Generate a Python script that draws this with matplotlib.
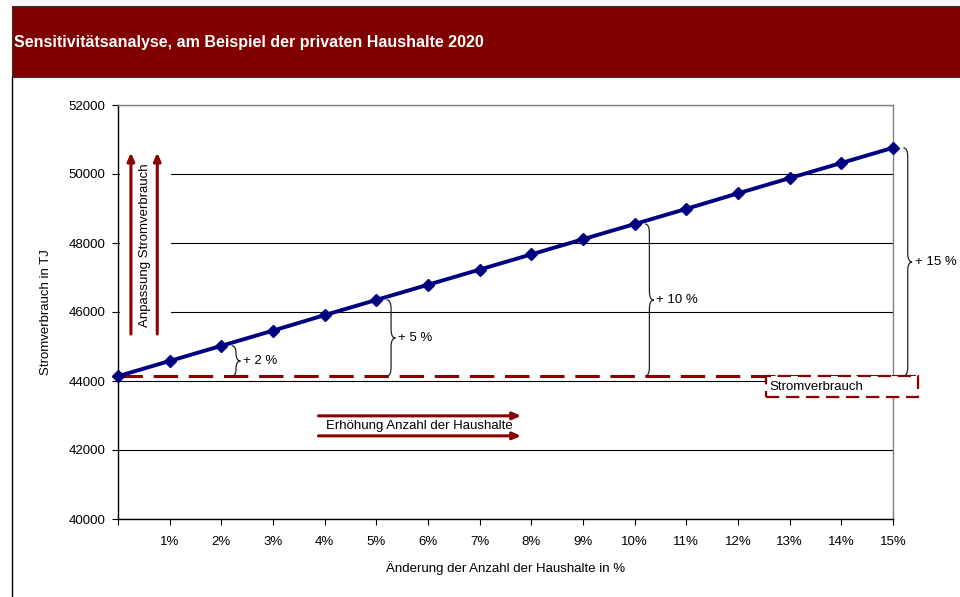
import numpy as np
import matplotlib
matplotlib.use('Agg')
from matplotlib import pyplot as plt
from matplotlib.patches import Rectangle, PathPatch
from matplotlib.path import Path
from matplotlib.lines import Line2D

plt.rcParams['font.family'] = ['Liberation Sans', 'DejaVu Sans']
plt.rcParams['font.size'] = 9.5

# change in number of households (%) and resulting power consumption (TJ)
change_pct = list(range(0, 16))
consumption = [44140, 44580, 45020, 45460, 45910, 46350, 46790, 47230,
               47670, 48110, 48550, 48990, 49440, 49880, 50320, 50760]
tick_labels = [''] + ['%d%%' % p for p in change_pct[1:]]
brace_steps = [2, 5, 10, 15]
brace_labels = ['+ 2 %', '+ 5 %', '+ 10 %', '+ 15 %']

DARK_RED = '#800000'
ARROW_RED = '#8b0000'
NAVY = '#000080'

base = consumption[0]


def brace(ax, x, y0, y1, w=0.17):
    # vertical curly brace from y0 (bottom) to y1 (top), tip pointing right
    r = min(260, (y1 - y0) / 4)
    ym = (y0 + y1) / 2
    xm = x + w / 2
    verts = [(x, y1), (xm, y1), (xm, y1 - r), (xm, ym + r), (xm, ym), (x + w, ym),
             (xm, ym), (xm, ym - r), (xm, y0 + r), (xm, y0), (x, y0)]
    codes = [Path.MOVETO, Path.CURVE3, Path.CURVE3, Path.LINETO, Path.CURVE3, Path.CURVE3,
             Path.CURVE3, Path.CURVE3, Path.LINETO, Path.CURVE3, Path.CURVE3]
    ax.add_patch(PathPatch(Path(verts, codes), fill=False, lw=0.9, ec='#222222',
                           clip_on=False, zorder=4))


fig = plt.figure(figsize=(9.6, 5.97), dpi=100)

# header band and outer frame
fig.patches.append(Rectangle((12 / 960, 1 - 77 / 597), 1, 71 / 597, transform=fig.transFigure,
                             facecolor=DARK_RED, edgecolor='#333333', lw=0.8))
fig.lines.append(Line2D([12 / 960, 12 / 960], [0, 1 - 77 / 597], transform=fig.transFigure,
                        color='black', lw=1))
fig.text(14 / 960, 1 - 42 / 597, 'Sensitivitätsanalyse, am Beispiel der privaten Haushalte 2020',
         color='white', fontsize=11.5, fontweight='bold', va='center', ha='left')

ax = fig.add_axes([118 / 960, 78 / 597, 775 / 960, 414 / 597])
ax.set_xlim(0, 15)
ax.set_ylim(40000, 52000)
ax.set_xticks(change_pct)
ax.set_xticklabels(tick_labels)
ax.set_yticks(np.arange(40000, 52001, 2000))
ax.set_yticklabels(['%d' % v for v in np.arange(40000, 52001, 2000)])
ax.tick_params(direction='out', length=4, width=0.8, colors='black')
ax.tick_params(axis='y', pad=5)
ax.tick_params(axis='x', pad=8)
for side in ['top', 'right']:
    ax.spines[side].set_color('#808080')
    ax.spines[side].set_linewidth(1)
for side in ['left', 'bottom']:
    ax.spines[side].set_color('black')
    ax.spines[side].set_linewidth(1)
ax.yaxis.grid(True, color='black', linewidth=0.8)
ax.set_axisbelow(True)

ax.set_xlabel('Änderung der Anzahl der Haushalte in %', labelpad=10)
ax.set_ylabel('Stromverbrauch in TJ', labelpad=12)

# white panel behind the vertical arrows
ax.add_patch(Rectangle((0.03, 45100), 1.0, 6000, facecolor='white', edgecolor='none', zorder=1))

# baseline consumption, dashed
ax.plot([0, 15.48], [base, base], color=ARROW_RED, lw=2.2, dashes=(8, 3.5),
        clip_on=False, zorder=3)
ax.add_patch(Rectangle((12.54, 43530), 2.94, base - 43530, facecolor='white',
                       edgecolor=ARROW_RED, lw=1.6, linestyle=(0, (6, 3)), clip_on=False, zorder=3))
ax.text(12.6, (base + 43530) / 2, 'Stromverbrauch', va='center', ha='left', zorder=5)

# consumption line
ax.plot(change_pct, consumption, color=NAVY, lw=2.8, marker='D', markersize=6, zorder=6,
        clip_on=False)

# braces with percentage labels
for step, lab in zip(brace_steps, brace_labels):
    x = step + 0.2
    brace(ax, x, base, consumption[step])
    ax.text(x + 0.22, (base + consumption[step]) / 2, lab, va='center', ha='left')

# vertical arrows: adjustment of consumption
arrow_kw = dict(arrowstyle='-|>,head_length=0.5,head_width=0.22', color=ARROW_RED, lw=2.2,
                shrinkA=0, shrinkB=0)
for x in [0.25, 0.76]:
    ax.annotate('', xy=(x, 50620), xytext=(x, 45360), arrowprops=arrow_kw, zorder=4)
ax.text(0.52, 47950, 'Anpassung Stromverbrauch', rotation=90, va='center', ha='center', zorder=4)

# horizontal arrows: more households
for y in [42990, 42410]:
    ax.annotate('', xy=(7.8, y), xytext=(3.88, y), arrowprops=arrow_kw, zorder=4)
ax.text(5.84, 42690, 'Erhöhung Anzahl der Haushalte', va='center', ha='center', zorder=4)

plt.savefig('out.png', dpi=100)
plt.close()
